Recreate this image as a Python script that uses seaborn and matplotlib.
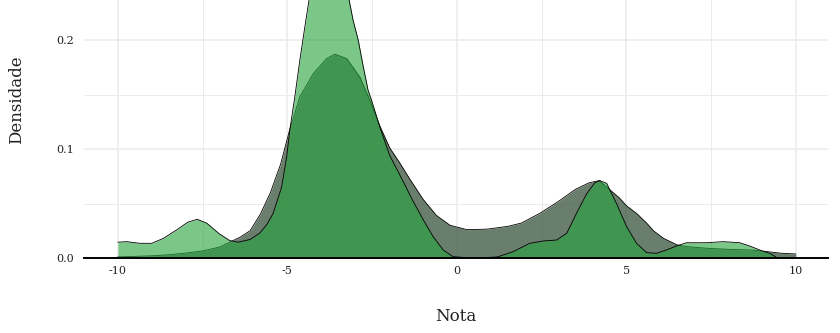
import matplotlib
matplotlib.use("Agg")
import matplotlib.pyplot as plt
import seaborn as sns
import numpy as np

# Density curve of series 1 (light green)
light_x = [-10, -9.75, -9.35, -9.0, -8.66, -8.27, -7.93, -7.66, -7.38, -7.0, -6.7, -6.45,
           -6.1, -5.81, -5.6, -5.42, -5.17, -5.02, -4.93, -4.78, -4.63, -4.48, -4.36, -4.2,
           -4.0, -3.77, -3.55, -3.35, -3.18, -3.06, -2.91, -2.76, -2.62, -2.52, -2.27, -1.98,
           -1.58, -1.29, -0.99, -0.7, -0.4, -0.11, 0.3, 0.8, 1.2, 1.66, 2.15, 2.55, 2.94,
           3.24, 3.53, 3.83, 4.07, 4.22, 4.42, 4.71, 5.01, 5.3, 5.6, 5.89, 6.18, 6.48, 6.77,
           7.36, 7.86, 8.35, 8.64, 8.94, 9.23, 9.43]
light_y = [0.0145, 0.015, 0.0135, 0.0135, 0.018, 0.0257, 0.033, 0.0355, 0.032, 0.022, 0.016,
           0.0145, 0.017, 0.023, 0.031, 0.041, 0.065, 0.093, 0.117, 0.148, 0.182, 0.213,
           0.237, 0.255, 0.271, 0.279, 0.272, 0.255, 0.237, 0.218, 0.2, 0.1755, 0.154, 0.145,
           0.120, 0.094, 0.070, 0.052, 0.035, 0.0196, 0.0073, 0.0012, 0.0003, 0.0003, 0.001,
           0.0058, 0.0135, 0.0156, 0.0165, 0.0226, 0.041, 0.059, 0.069, 0.071, 0.0685, 0.050,
           0.0287, 0.0135, 0.0049, 0.0043, 0.0073, 0.011, 0.014, 0.014, 0.015, 0.014, 0.011,
           0.0073, 0.0043, 0.0006]

# Density curve of series 2 (grey-green)
gray_x = [-10, -9.0, -8.5, -8.0, -7.5, -7.0, -6.7, -6.4, -6.1, -5.8, -5.5, -5.2, -4.93,
          -4.63, -4.24, -3.84, -3.6, -3.25, -2.86, -2.57, -2.27, -1.98, -1.7, -1.4, -1.0,
          -0.6, -0.2, 0.3, 0.9, 1.5, 1.9, 2.45, 3.0, 3.5, 3.9, 4.2, 4.5, 4.8, 5.0, 5.3, 5.6,
          5.8, 6.1, 6.5, 6.8, 7.4, 8.0, 8.7, 9.1, 9.6, 10.0]
gray_y = [0.001, 0.002, 0.003, 0.0045, 0.0065, 0.010, 0.0145, 0.019, 0.025, 0.040, 0.060,
          0.086, 0.118, 0.148, 0.169, 0.183, 0.187, 0.183, 0.166, 0.145, 0.121, 0.101, 0.088,
          0.073, 0.054, 0.039, 0.030, 0.026, 0.0265, 0.029, 0.032, 0.041, 0.052, 0.063, 0.069,
          0.071, 0.063, 0.055, 0.048, 0.041, 0.032, 0.025, 0.018, 0.012, 0.0104, 0.0089,
          0.008, 0.0073, 0.006, 0.0043, 0.0037]

x_ticks = [-10, -5, 0, 5, 10]
x_tick_labels = ["-10", "-5", "0", "5", "10"]
y_ticks = [0.0, 0.1, 0.2]
y_tick_labels = ["0.0", "0.1", "0.2"]
x_title = "Nota"
y_title = "Densidade"

sns.set_theme(style="white")
plt.rcParams["font.family"] = ["DejaVu Serif", "DejaVu Sans"]

fig = plt.figure(figsize=(8.4, 3.33), dpi=100)
ax = fig.add_axes([84 / 840, 75 / 333, 744 / 840, 258 / 333])

gray_fill = (0x2a / 255, 0x48 / 255, 0x2e / 255)
light_fill = (40 / 255, 166 / 255, 63 / 255)

ax.fill_between(gray_x, 0, gray_y, color=gray_fill, alpha=0.7, lw=0, zorder=2)
sns.lineplot(x=gray_x, y=gray_y, ax=ax, color="black", lw=0.6, sort=False, zorder=3)
ax.fill_between(light_x, 0, light_y, color=light_fill, alpha=0.62, lw=0, zorder=4)
sns.lineplot(x=light_x, y=light_y, ax=ax, color="black", lw=0.6, sort=False, zorder=5)

ax.set_xlim(-11.0, 10.95)
ax.set_ylim(0, 0.2367)

ax.set_xticks(x_ticks)
ax.set_xticklabels(x_tick_labels)
ax.set_yticks(y_ticks)
ax.set_yticklabels(y_tick_labels)
ax.set_xticks([-7.5, -2.5, 2.5, 7.5], minor=True)
ax.set_yticks([0.05, 0.15], minor=True)

ax.grid(which="major", color="#ebebeb", lw=1.1, zorder=0)
ax.grid(which="minor", color="#ebebeb", lw=0.7, zorder=0)
ax.set_axisbelow(True)

for s in ["top", "right", "left"]:
    ax.spines[s].set_visible(False)
ax.spines["bottom"].set_color("black")
ax.spines["bottom"].set_linewidth(1.4)
ax.spines["bottom"].set_zorder(10)

ax.tick_params(axis="both", which="both", length=0, labelsize=8, colors="#222222")
ax.tick_params(axis="x", pad=6)
ax.tick_params(axis="y", pad=7)

ax.set_xlabel(x_title, fontsize=12, color="#222222")
ax.set_ylabel(y_title, fontsize=12, color="#222222")
ax.xaxis.set_label_coords(0.5, -0.195)
ax.yaxis.set_label_coords(-0.079, 1 - 100 / 258)

fig.savefig("out.png", dpi=100)
